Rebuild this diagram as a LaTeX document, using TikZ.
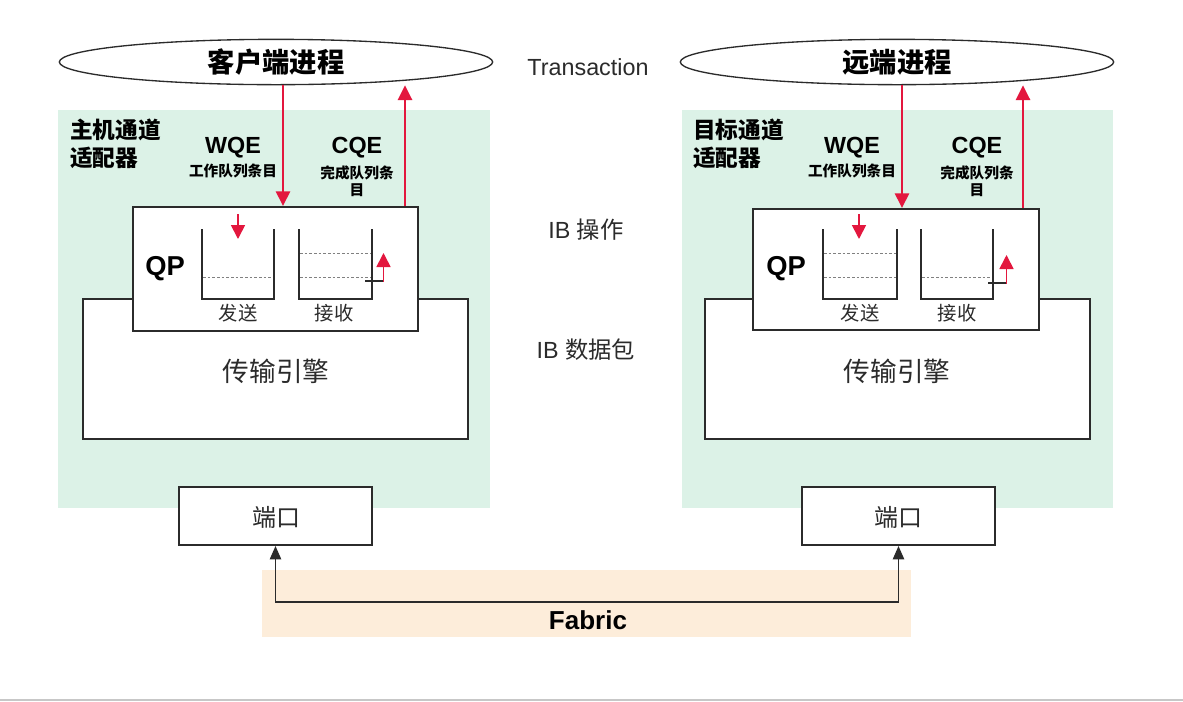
\documentclass[tikz,border=0pt]{standalone}
\usepackage{fontspec}
\setmainfont{Liberation Sans}
\newfontfamily\cjk{Noto Sans CJK SC}
\usetikzlibrary{shapes.geometric,arrows.meta,fit}
\definecolor{hcagreen}{HTML}{DCF2E7}
\definecolor{fabpeach}{HTML}{FDEDDA}
\definecolor{arred}{HTML}{E3173E}
\definecolor{ln}{HTML}{2B2B2B}
\tikzset{
  panel/.style={fill=hcagreen, draw=none, inner sep=0pt},
  boxw/.style={draw=ln, line width=1.5pt, fill=white, inner sep=0pt},
  proc/.style={ellipse, draw=ln, line width=1pt, fill=white, inner sep=0pt,
    minimum width=325pt, minimum height=34pt, font=\cjk\bfseries\fontsize{20.5}{24}\selectfont},
  redarr/.style={draw=arred, line width=2pt, -{Triangle[length=11pt,width=10.5pt]}},
  smallarr/.style={draw=arred, line width=1.3pt, -{Triangle[length=10.5pt,width=10.5pt]}},
  queue/.style={draw=ln, line width=1.3pt},
  lvl/.style={draw=gray, line width=0.6pt, dash pattern=on 2pt off 1.5pt},
  hca/.style={anchor=north west, align=left, font=\cjk\bfseries\fontsize{17}{21}\selectfont},
  qe/.style={font=\bfseries\fontsize{17.5}{20}\selectfont},
  qesub/.style={align=center, font=\cjk\bfseries\fontsize{11}{12.5}\selectfont},
  qp/.style={font=\bfseries\fontsize{20.5}{24}\selectfont},
  ql/.style={font=\cjk\fontsize{14.5}{17}\selectfont, text=ln},
  eng/.style={font=\cjk\fontsize{20}{24}\selectfont, text=ln},
  mid/.style={font=\fontsize{17.5}{21}\selectfont, text=ln},
  fabarr/.style={draw=ln, line width=1.1pt, {Triangle[length=10pt,width=8.5pt]}-{Triangle[length=10pt,width=8.5pt]}}
}
\begin{document}
\begin{tikzpicture}[x=0.75pt, y=-0.75pt]
\useasboundingbox (0,0) rectangle (1183,701);
\fill[white] (0,0) rectangle (1183,701);

% panels
\node[panel, fit={(58,110)(490,508)}] (hcaL) {};
\node[panel, fit={(682,110)(1113,508)}] (hcaR) {};
\node[fill=fabpeach, inner sep=0pt, fit={(262,570)(911,637)}] (fab) {};

% processes
\node[proc] (cpL) at (276,62) {客户端进程};
\node[proc] (cpR) at (897,62) {远端进程};

% transport engines
\node[boxw, fit={(83,299)(468,439)}] (teL) {};
\node[boxw, fit={(705,299)(1090,439)}] (teR) {};
\node[eng] (teLt) at (276,371) {传输引擎};
\node[eng] (teRt) at (897,371) {传输引擎};

% QP boxes
\node[boxw, fit={(133,207)(418,331)}] (qpL) {};
\node[boxw, fit={(753,209)(1039,330)}] (qpR) {};

% ports
\node[boxw, fit={(179,487)(372,545)}] (portL) {};
\node[boxw, fit={(802,487)(995,545)}] (portR) {};
\node[font=\cjk\fontsize{18}{20}\selectfont, text=ln] (portLt) at (276,517) {端口};
\node[font=\cjk\fontsize{18}{20}\selectfont, text=ln] (portRt) at (898,517) {端口};

% HCA labels
\node[hca, inner sep=0pt] (hcaLt) at (70,119) {主机通道\\适配器};
\node[hca, inner sep=0pt] (hcaRt) at (693,119) {目标通道\\适配器};

% WQE / CQE labels
\node[qe] (wqeL) at (233,148) {WQE};
\node[qesub] (wqeLs) at (233,171) {工作队列条目};
\node[qe] (cqeL) at (357,148) {CQE};
\node[qesub, anchor=north] (cqeLs) at (357,161) {完成队列条\\目};
\node[qe] (wqeR) at (852,148) {WQE};
\node[qesub] (wqeRs) at (852,171) {工作队列条目};
\node[qe] (cqeR) at (977,148) {CQE};
\node[qesub, anchor=north] (cqeRs) at (977,161) {完成队列条\\目};

% red WQE/CQE arrows
\coordinate (wL) at (283,0);
\coordinate (cL) at (405,0);
\coordinate (wR) at (902,0);
\coordinate (cR) at (1023,0);
\draw[redarr] (cpL.south -| wL) -- (qpL.north -| wL);
\draw[redarr] (qpL.north -| cL) -- (cL |- cpL.south);
\draw[redarr] (cpR.south -| wR) -- (qpR.north -| wR);
\draw[redarr] (qpR.north -| cR) -- (cR |- cpR.south);

% QP internals left
\node[qp] (qpLt) at (165,269) {QP};
\draw[queue] (202,229) |- (274,299) -- (274,229);
\draw[lvl] (203,277) -- (273,277);
\draw[smallarr] (238,214) -- (238,239);
\draw[queue] (299,229) |- (372,299) -- (372,229);
\draw[lvl] (300,253) -- (371,253);
\draw[lvl] (300,277) -- (371,277);
\draw[draw=ln, line width=1.1pt] (365,281) -- (384,281);
\draw[smallarr] (383.5,281.5) -- (383.5,253);
\node[ql] (sendL) at (238,313) {发送};
\node[ql] (recvL) at (334,313) {接收};

% QP internals right
\node[qp] (qpRt) at (786,269) {QP};
\draw[queue] (823,229) |- (897,299) -- (897,229);
\draw[lvl] (824,253) -- (896,253);
\draw[lvl] (824,277) -- (896,277);
\draw[smallarr] (859,214) -- (859,239);
\draw[queue] (921,229) |- (993,299) -- (993,229);
\draw[lvl] (922,277) -- (992,277);
\draw[draw=ln, line width=1.1pt] (988,283) -- (1007,283);
\draw[smallarr] (1006.5,283.5) -- (1006.5,255);
\node[ql] (sendR) at (860,313) {发送};
\node[ql] (recvR) at (957,313) {接收};

% middle labels
\node[mid] (trans) at (588,67) {Transaction};
\node[mid] (ibop) at (586,230) {IB {\cjk 操作}};
\node[mid] (ibpk) at (586,350) {IB {\cjk 数据包}};

% fabric
\draw[fabarr] (portL.south) -- ++(0,56) -| (portR.south);
\node[font=\bfseries\fontsize{19.5}{23}\selectfont] (fabt) at (588,620) {Fabric};

% bottom rule
\draw[draw=black!22, line width=1.5pt] (0,699.5) -- (1183,699.5);
\end{tikzpicture}
\end{document}
